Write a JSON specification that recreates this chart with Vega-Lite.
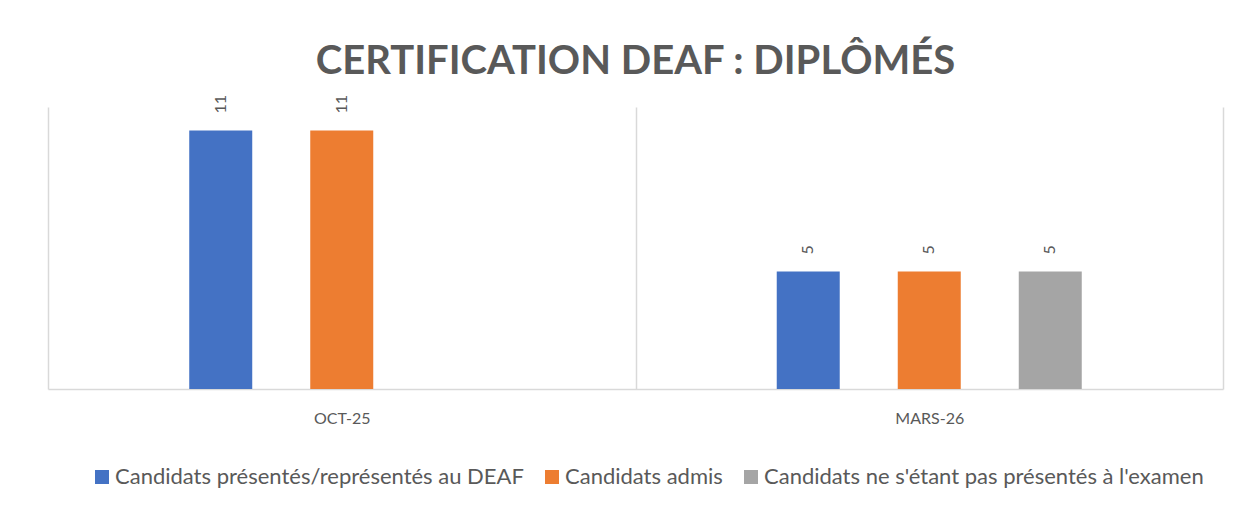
{
  "$schema": "https://vega.github.io/schema/vega-lite/v6.json",
  "width": 1175,
  "height": 282,
  "autosize": {"type": "none"},
  "padding": {"left": 48, "top": 107, "right": 23, "bottom": 126},
  "background": "white",
  "title": {
    "text": "CERTIFICATION DEAF : DIPLÔMÉS",
    "font": "Lato",
    "fontSize": 40,
    "fontWeight": "bold",
    "color": "#595959",
    "anchor": "middle",
    "offset": 13
  },
  "data": {
    "values": [
      {"session": "OCT-25", "serie": "Candidats présentés/représentés au DEAF", "valeur": 11},
      {"session": "OCT-25", "serie": "Candidats admis", "valeur": 11},
      {"session": "OCT-25", "serie": "Candidats ne s'étant pas présentés à l'examen", "valeur": null},
      {"session": "MARS-26", "serie": "Candidats présentés/représentés au DEAF", "valeur": 5},
      {"session": "MARS-26", "serie": "Candidats admis", "valeur": 5},
      {"session": "MARS-26", "serie": "Candidats ne s'étant pas présentés à l'examen", "valeur": 5}
    ]
  },
  "encoding": {
    "x": {
      "field": "session",
      "type": "nominal",
      "sort": ["OCT-25", "MARS-26"],
      "scale": {"paddingInner": 0, "paddingOuter": 0},
      "axis": {
        "title": null,
        "labelAngle": 0,
        "labelFont": "Lato",
        "labelFontSize": 16,
        "labelColor": "#595959",
        "labelPadding": 21,
        "ticks": false,
        "domainColor": "#d9d9d9",
        "domainWidth": 1.5,
        "grid": true,
        "tickBand": "extent",
        "gridColor": "#d9d9d9",
        "gridWidth": 1.5
      }
    },
    "xOffset": {
      "field": "serie",
      "type": "nominal",
      "sort": ["Candidats présentés/représentés au DEAF", "Candidats admis", "Candidats ne s'étant pas présentés à l'examen"],
      "scale": {"paddingInner": 0.145, "paddingOuter": 1}
    },
    "y": {
      "field": "valeur",
      "type": "quantitative",
      "scale": {"domain": [0, 12], "nice": false},
      "axis": null
    }
  },
  "layer": [
    {
      "mark": {"type": "bar", "width": 63},
      "encoding": {
        "color": {
          "field": "serie",
          "type": "nominal",
          "scale": {
            "domain": ["Candidats présentés/représentés au DEAF", "Candidats admis", "Candidats ne s'étant pas présentés à l'examen"],
            "range": ["#4472C4", "#ED7D31", "#A5A5A5"]
          },
          "legend": {
            "title": null,
            "orient": "none",
            "legendX": 43,
            "legendY": 359,
            "direction": "horizontal",
            "symbolType": "square",
            "symbolSize": 196,
            "symbolStrokeWidth": 0,
            "labelFont": "Lato",
            "labelFontSize": 22,
            "labelColor": "#595959",
            "labelLimit": 600,
            "labelOffset": 2,
            "columnPadding": 17
          }
        }
      }
    },
    {
      "mark": {"type": "text", "angle": 270, "align": "left", "baseline": "middle", "dx": 17, "font": "Lato", "fontSize": 16, "color": "#595959"},
      "encoding": {
        "text": {"field": "valeur", "type": "quantitative"}
      }
    }
  ],
  "config": {
    "view": {"stroke": null}
  }
}
